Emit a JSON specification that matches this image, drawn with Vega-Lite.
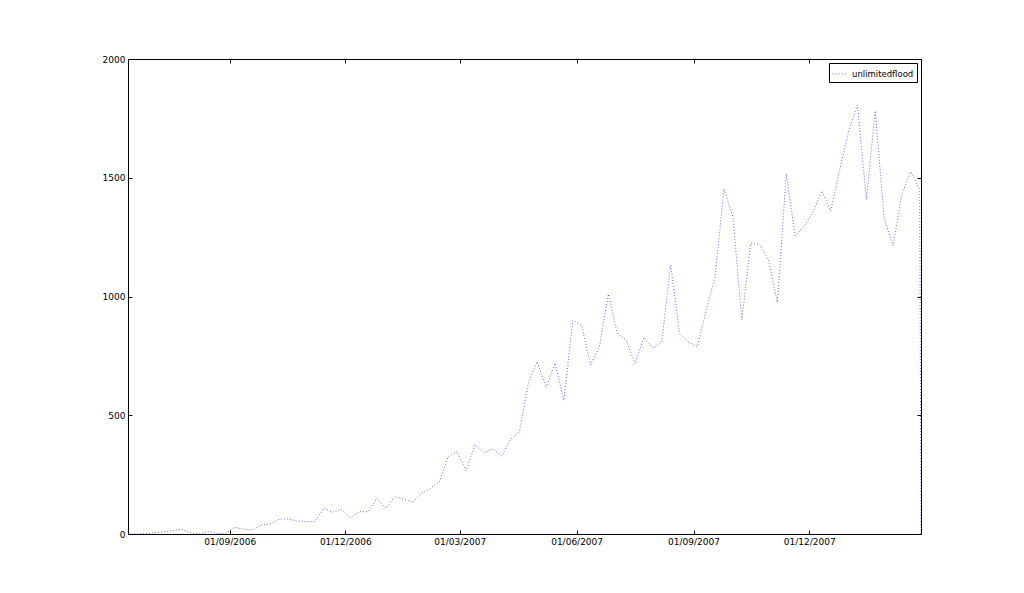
{
  "$schema": "https://vega.github.io/schema/vega-lite/v6.json",
  "width": 793,
  "height": 475,
  "autosize": {"type": "none"},
  "padding": {"left": 128, "top": 59, "right": 103, "bottom": 59},
  "background": "white",
  "config": {
    "view": {"stroke": "black", "strokeWidth": 1},
    "font": "DejaVu Sans",
    "axis": {
      "domain": false,
      "grid": false,
      "title": null,
      "labelFont": "DejaVu Sans",
      "labelFontSize": 9,
      "labelColor": "black",
      "tickColor": "black",
      "tickSize": -4,
      "labelPadding": 7
    }
  },
  "data": {
    "values": [
      {"date": "2006-06-13", "value": 0},
      {"date": "2006-06-20", "value": 0},
      {"date": "2006-06-27", "value": 2},
      {"date": "2006-07-04", "value": 5},
      {"date": "2006-07-11", "value": 8},
      {"date": "2006-07-18", "value": 14},
      {"date": "2006-07-25", "value": 20},
      {"date": "2006-08-01", "value": 5},
      {"date": "2006-08-08", "value": 0},
      {"date": "2006-08-15", "value": 10},
      {"date": "2006-08-22", "value": 3},
      {"date": "2006-08-29", "value": 3},
      {"date": "2006-09-05", "value": 28},
      {"date": "2006-09-12", "value": 20},
      {"date": "2006-09-19", "value": 17},
      {"date": "2006-09-26", "value": 38},
      {"date": "2006-10-03", "value": 42},
      {"date": "2006-10-10", "value": 63},
      {"date": "2006-10-17", "value": 63},
      {"date": "2006-10-24", "value": 55},
      {"date": "2006-10-31", "value": 52},
      {"date": "2006-11-07", "value": 52},
      {"date": "2006-11-14", "value": 108},
      {"date": "2006-11-21", "value": 92},
      {"date": "2006-11-28", "value": 103},
      {"date": "2006-12-05", "value": 68},
      {"date": "2006-12-12", "value": 94},
      {"date": "2006-12-19", "value": 94},
      {"date": "2006-12-26", "value": 150},
      {"date": "2007-01-02", "value": 108},
      {"date": "2007-01-09", "value": 158},
      {"date": "2007-01-16", "value": 146},
      {"date": "2007-01-23", "value": 133},
      {"date": "2007-01-30", "value": 171},
      {"date": "2007-02-06", "value": 192},
      {"date": "2007-02-13", "value": 220},
      {"date": "2007-02-20", "value": 326},
      {"date": "2007-02-27", "value": 347},
      {"date": "2007-03-06", "value": 267},
      {"date": "2007-03-13", "value": 375},
      {"date": "2007-03-20", "value": 342},
      {"date": "2007-03-27", "value": 358},
      {"date": "2007-04-03", "value": 328},
      {"date": "2007-04-10", "value": 399},
      {"date": "2007-04-17", "value": 431},
      {"date": "2007-04-24", "value": 635},
      {"date": "2007-05-01", "value": 726},
      {"date": "2007-05-08", "value": 616},
      {"date": "2007-05-15", "value": 719},
      {"date": "2007-05-22", "value": 562},
      {"date": "2007-05-29", "value": 899},
      {"date": "2007-06-05", "value": 878},
      {"date": "2007-06-12", "value": 712},
      {"date": "2007-06-19", "value": 789},
      {"date": "2007-06-26", "value": 1010},
      {"date": "2007-07-03", "value": 845},
      {"date": "2007-07-10", "value": 817},
      {"date": "2007-07-17", "value": 716},
      {"date": "2007-07-24", "value": 828},
      {"date": "2007-07-31", "value": 782},
      {"date": "2007-08-07", "value": 807},
      {"date": "2007-08-14", "value": 1133},
      {"date": "2007-08-21", "value": 845},
      {"date": "2007-08-28", "value": 807},
      {"date": "2007-09-04", "value": 789},
      {"date": "2007-09-11", "value": 943},
      {"date": "2007-09-18", "value": 1083},
      {"date": "2007-09-25", "value": 1453},
      {"date": "2007-10-02", "value": 1336},
      {"date": "2007-10-09", "value": 901},
      {"date": "2007-10-16", "value": 1224},
      {"date": "2007-10-23", "value": 1220},
      {"date": "2007-10-30", "value": 1154},
      {"date": "2007-11-06", "value": 974},
      {"date": "2007-11-13", "value": 1516},
      {"date": "2007-11-20", "value": 1256},
      {"date": "2007-11-27", "value": 1294},
      {"date": "2007-12-04", "value": 1357},
      {"date": "2007-12-11", "value": 1444},
      {"date": "2007-12-18", "value": 1361},
      {"date": "2007-12-25", "value": 1533},
      {"date": "2008-01-01", "value": 1694},
      {"date": "2008-01-08", "value": 1806},
      {"date": "2008-01-15", "value": 1409},
      {"date": "2008-01-22", "value": 1782},
      {"date": "2008-01-29", "value": 1329},
      {"date": "2008-02-05", "value": 1213},
      {"date": "2008-02-12", "value": 1432},
      {"date": "2008-02-19", "value": 1526},
      {"date": "2008-02-26", "value": 1448},
      {"date": "2008-02-27", "value": 0}
    ]
  },
  "layer": [
    {
      "mark": {"type": "line", "strokeDash": [1, 2], "strokeWidth": 1, "opacity": 0.6},
      "encoding": {
        "x": {
          "field": "date",
          "type": "temporal",
          "scale": {
            "type": "utc",
            "nice": false,
            "domain": [
              {"year": 2006, "month": 6, "date": 13, "utc": true},
              {"year": 2008, "month": 2, "date": 27, "utc": true}
            ]
          },
          "axis": {
            "values": [
              {"year": 2006, "month": 9, "date": 1, "utc": true},
              {"year": 2006, "month": 12, "date": 1, "utc": true},
              {"year": 2007, "month": 3, "date": 1, "utc": true},
              {"year": 2007, "month": 6, "date": 1, "utc": true},
              {"year": 2007, "month": 9, "date": 1, "utc": true},
              {"year": 2007, "month": 12, "date": 1, "utc": true}
            ],
            "labelExpr": "utcFormat(datum.value, '%d/%m/%Y')"
          }
        },
        "y": {
          "field": "value",
          "type": "quantitative",
          "scale": {"domain": [0, 2000], "nice": false},
          "axis": {"values": [0, 500, 1000, 1500, 2000], "format": "d"}
        },
        "color": {
          "datum": "unlimitedflood",
          "scale": {"range": ["blue"]},
          "legend": {
            "title": null,
            "orient": "top-right",
            "offset": 4,
            "strokeColor": "black",
            "fillColor": "white",
            "padding": 3,
            "cornerRadius": 0,
            "symbolType": "stroke",
            "symbolDash": [1, 2],
            "symbolStrokeWidth": 1,
            "symbolSize": 220,
            "symbolOpacity": 0.6,
            "labelFont": "DejaVu Sans",
            "labelFontSize": 8.5,
            "labelColor": "black"
          }
        }
      }
    },
    {
      "mark": {"type": "line", "opacity": 0},
      "encoding": {
        "x": {
          "field": "date",
          "type": "temporal",
          "axis": {
            "orient": "top",
            "labels": false,
            "values": [
              {"year": 2006, "month": 9, "date": 1, "utc": true},
              {"year": 2006, "month": 12, "date": 1, "utc": true},
              {"year": 2007, "month": 3, "date": 1, "utc": true},
              {"year": 2007, "month": 6, "date": 1, "utc": true},
              {"year": 2007, "month": 9, "date": 1, "utc": true},
              {"year": 2007, "month": 12, "date": 1, "utc": true}
            ]
          }
        },
        "y": {
          "field": "value",
          "type": "quantitative",
          "axis": {"orient": "right", "labels": false, "values": [0, 500, 1000, 1500, 2000]}
        }
      }
    }
  ],
  "resolve": {"axis": {"x": "independent", "y": "independent"}}
}
